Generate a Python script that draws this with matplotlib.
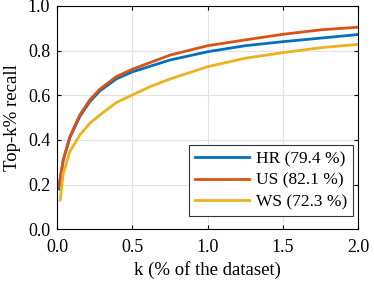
import matplotlib
matplotlib.use("Agg")
import matplotlib.pyplot as plt

plt.rcParams["font.family"] = ["Liberation Serif", "DejaVu Serif"]

k_vals = [0.01, 0.04, 0.084, 0.15, 0.217, 0.284, 0.394, 0.5, 0.75, 1.0, 1.25, 1.5, 1.75, 2.0]
hr_recall = [0.18, 0.31, 0.41, 0.505, 0.572, 0.62, 0.674, 0.705, 0.758, 0.795, 0.822, 0.840, 0.856, 0.872]
us_recall = [0.19, 0.31, 0.415, 0.512, 0.58, 0.628, 0.684, 0.717, 0.78, 0.822, 0.848, 0.873, 0.893, 0.905]
ws_k = [0.02, 0.04, 0.084, 0.151, 0.217, 0.284, 0.394, 0.5, 0.622, 0.75, 1.0, 1.25, 1.5, 1.75, 2.0]
ws_recall = [0.131, 0.25, 0.348, 0.423, 0.475, 0.512, 0.568, 0.602, 0.64, 0.673, 0.728, 0.766, 0.791, 0.813, 0.828]

labels = ["HR (79.4 %)", "US (82.1 %)", "WS (72.3 %)"]
colors = ["#0072BD", "#D95319", "#EDB120"]

fig = plt.figure(figsize=(3.74, 2.83), dpi=100)
ax = fig.add_axes([0.153, 0.19, 0.805, 0.789])

ax.plot(k_vals, hr_recall, color=colors[0], lw=2.0, label=labels[0])
ax.plot(k_vals, us_recall, color=colors[1], lw=2.0, label=labels[1])
ax.plot(ws_k, ws_recall, color=colors[2], lw=2.0, label=labels[2])

ax.set_xlim(0, 2.0)
ax.set_ylim(0, 1.0)
ax.set_xticks([0, 0.5, 1.0, 1.5, 2.0])
ax.set_yticks([0, 0.2, 0.4, 0.6, 0.8, 1.0])
ax.set_xticklabels(["0.0", "0.5", "1.0", "1.5", "2.0"])
ax.set_yticklabels(["0.0", "0.2", "0.4", "0.6", "0.8", "1.0"])
ax.tick_params(direction="in", labelsize=13, length=3, top=True, right=True)
ax.tick_params(axis="x", pad=7)
ax.tick_params(axis="y", pad=5)
ax.grid(True, color="#e3e3e3", lw=0.8)
ax.set_axisbelow(True)
for s in ax.spines.values():
    s.set_linewidth(0.8)

ax.set_xlabel("k (% of the dataset)", fontsize=13.5, labelpad=4)
ax.set_ylabel("Top-k% recall", fontsize=13.5, labelpad=5)

leg = ax.legend(loc="lower right", bbox_to_anchor=(0.983, 0.058), fontsize=12.5,
                fancybox=False, framealpha=1, edgecolor="#333333",
                handlelength=3.1, borderaxespad=0.0, labelspacing=0.3,
                handletextpad=0.4, borderpad=0.35)
leg.get_frame().set_linewidth(0.8)

fig.savefig("out.png", dpi=100)
